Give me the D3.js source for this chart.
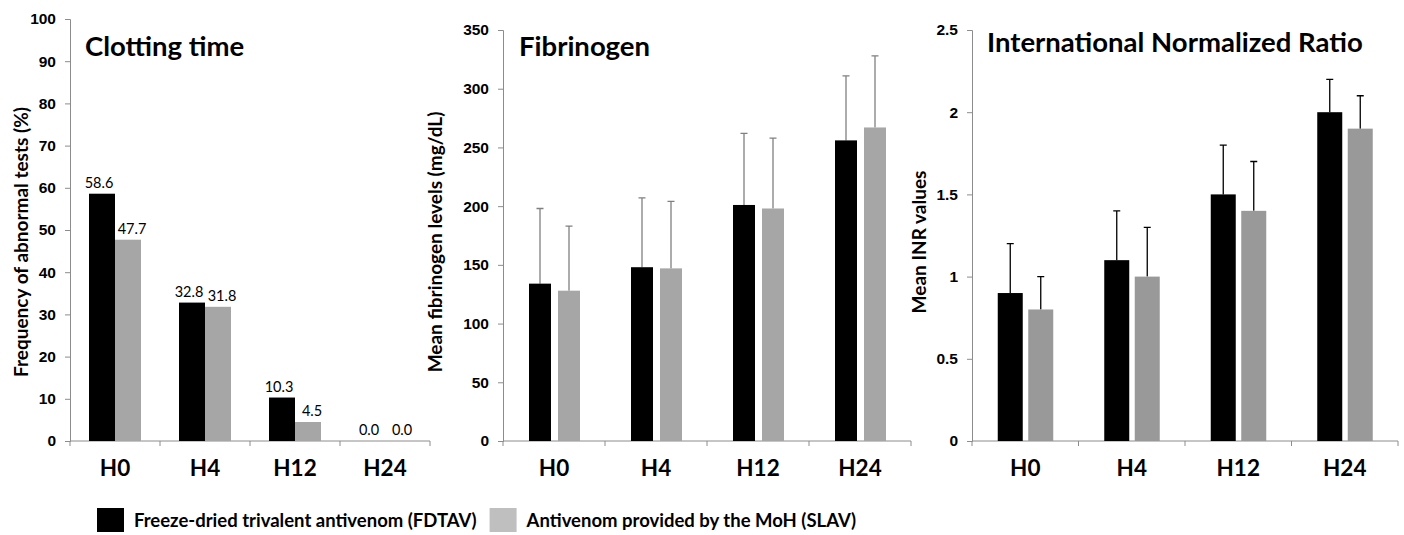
<!DOCTYPE html>
<html>
<head>
<meta charset="utf-8">
<script src="https://cdn.jsdelivr.net/npm/d3@7"></script>
<style>
  body { margin: 0; background: #fff; }
  svg { font-family: Lato, "Open Sans", sans-serif; }
</style>
</head>
<body>
<div id="chart"></div>
<script>
const categories = ['H0', 'H4', 'H12', 'H24'];
const seriesNames = ['Freeze-dried trivalent antivenom (FDTAV)', 'Antivenom provided by the MoH (SLAV)'];

// clotting time, % abnormal tests
const clotFDTAV = [58.6, 32.8, 10.3, 0.0];
const clotSLAV = [47.7, 31.8, 4.5, 0.0];

// fibrinogen mean and upper error
const fibFDTAV = [134, 148, 201, 256];
const fibFDTAVsd = [64, 59, 61, 55];
const fibSLAV = [128, 147, 198, 267];
const fibSLAVsd = [55, 57, 60, 61];

// INR mean and upper error
const inrFDTAV = [0.9, 1.1, 1.5, 2.0];
const inrFDTAVsd = [0.3, 0.3, 0.3, 0.2];
const inrSLAV = [0.8, 1.0, 1.4, 1.9];
const inrSLAVsd = [0.2, 0.3, 0.3, 0.2];

const clotTicks = [0, 10, 20, 30, 40, 50, 60, 70, 80, 90, 100];
const fibTicks = [0, 50, 100, 150, 200, 250, 300, 350];
const inrTicks = [0, 0.5, 1, 1.5, 2, 2.5];

const W = 1404, H = 535;
const svg = d3.select('#chart').append('svg').attr('width', W).attr('height', H);

const axisColor = '#8c8c8c';

function panel(cfg) {
  const g = svg.append('g');
  const x = d3.scaleBand().domain(categories).range([cfg.x0, cfg.x1]);
  const y = d3.scaleLinear().domain([0, cfg.max]).range([441, cfg.top]);

  // y axis
  const yAxis = d3.axisLeft(y).tickValues(cfg.ticks).tickSize(5).tickFormat(cfg.fmt);
  const ya = g.append('g').attr('transform', `translate(${cfg.x0},0)`).call(yAxis);
  ya.select('.domain').attr('stroke', axisColor);
  ya.selectAll('.tick line').attr('stroke', axisColor);
  ya.selectAll('.tick text').attr('fill', '#000').attr('font-size', 15.5).attr('font-weight', 'bold').attr('dx', -6);

  // x axis with ticks between categories
  const xa = g.append('g').attr('transform', 'translate(0,441)');
  xa.append('line').attr('x1', cfg.x0).attr('x2', cfg.x1).attr('stroke', axisColor);
  const bounds = categories.map(c => x(c)).concat([cfg.x1]);
  xa.selectAll('line.tk').data(bounds).join('line').attr('class', 'tk')
    .attr('x1', d => d).attr('x2', d => d).attr('y1', 0).attr('y2', 5).attr('stroke', axisColor);
  xa.selectAll('text').data(categories).join('text')
    .attr('x', d => x(d) + x.bandwidth() / 2).attr('y', 35)
    .attr('text-anchor', 'middle').attr('font-size', 22.5).attr('font-weight', 'bold').text(d => d);

  // bars
  const series = [
    { vals: cfg.a, err: cfg.aErr, color: '#000', off: cfg.offA, ldx: -3 },
    { vals: cfg.b, err: cfg.bErr, color: cfg.gray, off: cfg.offB, ldx: 4 }
  ];
  series.forEach(s => {
    const cx = i => x(categories[i]) + x.bandwidth() / 2 + s.off;
    if (s.err) {
      g.append('g').selectAll('path').data(s.vals).join('path')
        .attr('d', (d, i) => `M${cx(i)},${y(d)}V${y(d + s.err[i])}M${cx(i) - 3.5},${y(d + s.err[i])}H${cx(i) + 3.5}`)
        .attr('stroke', cfg.errColor).attr('stroke-width', 1.3).attr('fill', 'none');
    }
    g.append('g').selectAll('rect').data(s.vals).join('rect')
      .attr('x', (d, i) => cx(i) - cfg.bw / 2).attr('width', cfg.bw)
      .attr('y', d => y(d)).attr('height', d => 441 - y(d))
      .attr('fill', s.color);
    if (cfg.labels) {
      g.append('g').selectAll('text').data(s.vals).join('text')
        .attr('x', (d, i) => cx(i) + s.ldx).attr('y', d => y(d) - 6)
        .attr('text-anchor', 'middle').attr('font-size', 14.5).text(d => d.toFixed(1));
    }
  });

  // title
  g.append('text').attr('x', cfg.tx).attr('y', cfg.ty).attr('font-size', cfg.tsize)
    .attr('font-weight', 'bold').text(cfg.title);

  // y label
  g.append('text').attr('transform', `translate(${cfg.lx},242) rotate(-90)`)
    .attr('text-anchor', 'middle').attr('font-size', 19).attr('font-weight', 'bold').text(cfg.ylabel);
}

panel({
  x0: 70, x1: 430, top: 19, max: 100, ticks: clotTicks, fmt: d3.format('d'),
  a: clotFDTAV, b: clotSLAV, offA: -13, offB: 13, bw: 26, gray: '#a6a6a6',
  labels: true, title: 'Clotting time', tx: 85, ty: 56, tsize: 27.5,
  ylabel: 'Frequency of abnormal tests (%)', lx: 28
});

panel({
  x0: 503, x1: 911, top: 30, max: 350, ticks: fibTicks, fmt: d3.format('d'),
  a: fibFDTAV, b: fibSLAV, aErr: fibFDTAVsd, bErr: fibSLAVsd,
  offA: -14, offB: 15, bw: 22, gray: '#a6a6a6', errColor: '#808080',
  title: 'Fibrinogen', tx: 519, ty: 56, tsize: 27.5,
  ylabel: 'Mean fibrinogen levels (mg/dL)', lx: 442
});

panel({
  x0: 972, x1: 1398, top: 30, max: 2.5, ticks: inrTicks, fmt: d => String(d),
  a: inrFDTAV, b: inrSLAV, aErr: inrFDTAVsd, bErr: inrSLAVsd,
  offA: -15, offB: 15.5, bw: 25, gray: '#999999', errColor: '#000',
  title: 'International Normalized Ratio', tx: 987, ty: 52, tsize: 27.5,
  ylabel: 'Mean INR values', lx: 926
});

// legend: items laid out one after another
const leg = svg.append('g');
const legColors = ['#000', '#bfbfbf'];
let lx = 97;
seriesNames.forEach((name, i) => {
  leg.append('rect').attr('x', lx).attr('y', 508).attr('width', 27).attr('height', 24).attr('fill', legColors[i]);
  const t = leg.append('text').attr('x', lx + 37).attr('y', 527).attr('font-size', 18.5)
    .attr('font-weight', 'bold').text(name);
  lx += 37 + t.node().getComputedTextLength() + 13;
});
</script>
</body>
</html>
